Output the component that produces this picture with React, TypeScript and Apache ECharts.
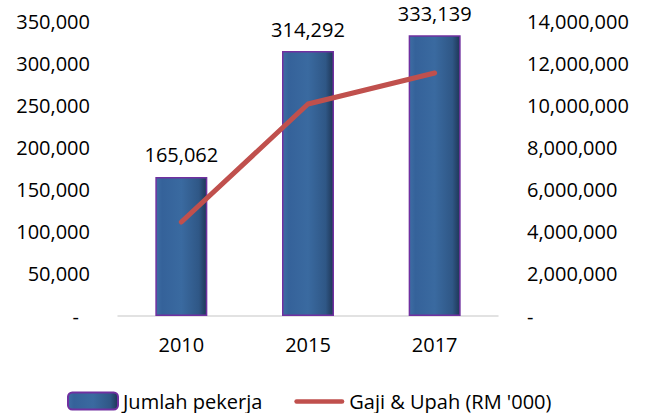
import React, { useEffect, useRef } from "react";
import * as echarts from "echarts";

const categories = ["2010", "2015", "2017"];
const pekerja = [165062, 314292, 333139];
const gaji = [4460000, 10060000, 11530000];

const fmt = (v: number) => v.toLocaleString("en-US");

export default function App() {
  const ref = useRef<HTMLDivElement>(null);
  useEffect(() => {
    if (!ref.current) return;
    const chart = echarts.init(ref.current, undefined, { renderer: "svg" });
    const font = "Open Sans";
    chart.setOption({
      animation: false,
      textStyle: { fontFamily: font },
      grid: { left: 118, right: 152, top: 21, bottom: 97 },
      legend: {
        left: 62,
        top: 386,
        itemGap: 32,
        itemWidth: 50,
        itemHeight: 17,
        textStyle: { fontSize: 20, color: "#000", fontFamily: font },
        data: [
          { name: "Jumlah pekerja" },
          {
            name: "Gaji & Upah (RM '000)",
            icon: "path://M0,0 M2,6.5 L52,6.5 A2.5,2.5 0 0 1 52,11.5 L2,11.5 A2.5,2.5 0 0 1 2,6.5 Z M54,17",
            itemStyle: { color: "#C0504D", borderWidth: 0 },
          },
        ],
      },
      xAxis: {
        type: "category",
        data: categories,
        axisLine: { lineStyle: { color: "#d9d9d9", width: 1.5 } },
        axisTick: { show: false },
        axisLabel: { fontSize: 20, color: "#000", margin: 18, fontFamily: font },
      },
      yAxis: [
        {
          type: "value",
          min: 0,
          max: 350000,
          interval: 50000,
          splitLine: { show: false },
          axisLine: { show: false },
          axisLabel: {
            fontSize: 20,
            color: "#000",
            margin: 28,
            fontFamily: font,
            formatter: (v: number) => (v === 0 ? "{d|-}" : fmt(v)),
            rich: { d: { fontSize: 20, fontFamily: font, padding: [0, 11, 0, 0], color: "#000" } },
          },
        },
        {
          type: "value",
          min: 0,
          max: 14000000,
          interval: 2000000,
          splitLine: { show: false },
          axisLine: { show: false },
          axisLabel: {
            fontSize: 20,
            color: "#000",
            margin: 29,
            fontFamily: font,
            formatter: (v: number) => (v === 0 ? "-" : fmt(v)),
          },
        },
      ],
      series: [
        {
          name: "Jumlah pekerja",
          type: "bar",
          data: pekerja,
          barWidth: 52,
          itemStyle: {
            color: new echarts.graphic.LinearGradient(0, 0, 1, 0, [
              { offset: 0, color: "#3d6da3" },
              { offset: 0.12, color: "#35629a" },
              { offset: 0.5, color: "#3a6aa0" },
              { offset: 0.85, color: "#2f5786" },
              { offset: 1, color: "#1e3656" },
            ]),
            borderColor: "#7030A0",
            borderWidth: 1.5,
          },
          label: {
            show: true,
            position: "top",
            distance: 12,
            fontSize: 20,
            color: "#000",
            fontFamily: font,
            formatter: (p: any) => fmt(p.value),
          },
        },
        {
          name: "Gaji & Upah (RM '000)",
          type: "line",
          yAxisIndex: 1,
          data: gaji,
          symbol: "none",
          lineStyle: { color: "#C0504D", width: 5, cap: "round", join: "round" },
          itemStyle: { color: "#C0504D" },
        },
      ],
    });
    return () => chart.dispose();
  }, []);
  return <div ref={ref} style={{ width: 650, height: 413, position: "absolute", left: 0, top: 0 }} />;
}
